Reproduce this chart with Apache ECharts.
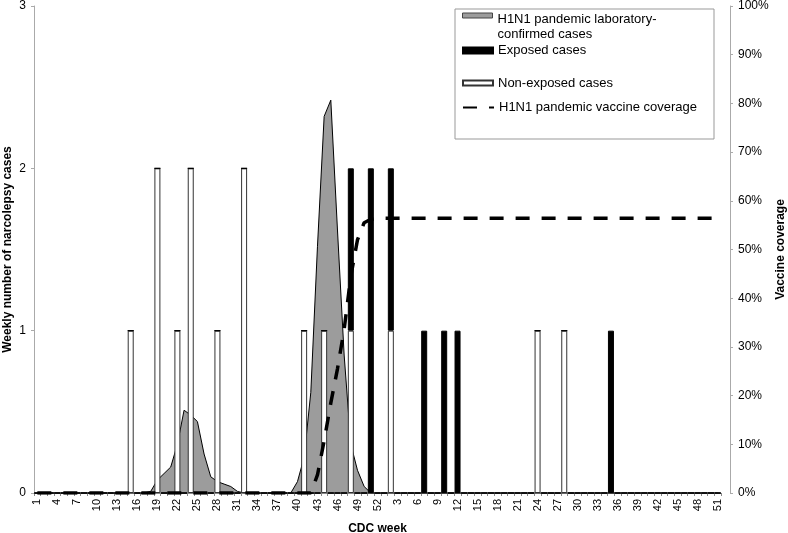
<!DOCTYPE html>
<html>
<head>
<meta charset="utf-8">
<script src="https://cdn.jsdelivr.net/npm/echarts@6/dist/echarts.min.js"></script>
<style>
  html, body { margin: 0; padding: 0; background: #fff; }
  #chart { width: 788px; height: 533px; }
</style>
</head>
<body>
<div id="chart"></div>
<script>
  // CDC weeks: 2009 week 1..52, then 2010 week 1..51
  var weeks = [
    '1','2','3','4','5','6','7','8','9','10','11','12','13',
    '14','15','16','17','18','19','20','21','22','23','24','25','26',
    '27','28','29','30','31','32','33','34','35','36','37','38','39',
    '40','41','42','43','44','45','46','47','48','49','50','51','52',
    '1','2','3','4','5','6','7','8','9','10','11','12','13',
    '14','15','16','17','18','19','20','21','22','23','24','25','26',
    '27','28','29','30','31','32','33','34','35','36','37','38','39',
    '40','41','42','43','44','45','46','47','48','49','50','51'
  ];

  // H1N1 laboratory-confirmed cases (scaled to left axis)
  var labConfirmed = [
    0, 0, 0, 0, 0, 0, 0, 0, 0, 0, 0, 0, 0,
    0, 0, 0, 0, 0.01, 0.08, 0.12, 0.16, 0.30, 0.51, 0.48, 0.44, 0.24,
    0.10, 0.07, 0.055, 0.04, 0.01, 0, 0, 0, 0, 0, 0, 0, 0,
    0.07, 0.22, 0.62, 1.52, 2.32, 2.42, 1.62, 0.85, 0.30, 0.14, 0.04, 0, 0,
    0, 0, 0, 0, 0, 0, 0, 0, 0, 0, 0, 0, 0,
    0, 0, 0, 0, 0, 0, 0, 0, 0, 0, 0, 0, 0,
    0, 0, 0, 0, 0, 0, 0, 0, 0, 0, 0, 0, 0,
    0, 0, 0, 0, 0, 0, 0, 0, 0, 0, 0, 0
  ];

  var nonExposed = [
    0, 0, 0, 0, 0, 0, 0, 0, 0, 0, 0, 0, 0,
    0, 1, 0, 0, 0, 2, 0, 0, 1, 0, 2, 0, 0,
    0, 1, 0, 0, 0, 2, 0, 0, 0, 0, 0, 0, 0,
    0, 1, 0, 0, 1, 0, 0, 0, 1, 0, 0, 0, 0,
    0, 1, 0, 0, 0, 0, 0, 0, 0, 0, 0, 0, 0,
    0, 0, 0, 0, 0, 0, 0, 0, 0, 0, 1, 0, 0,
    0, 1, 0, 0, 0, 0, 0, 0, 0, 0, 0, 0, 0,
    0, 0, 0, 0, 0, 0, 0, 0, 0, 0, 0, 0
  ];

  var exposed = [
    0, 0, 0, 0, 0, 0, 0, 0, 0, 0, 0, 0, 0,
    0, 0, 0, 0, 0, 0, 0, 0, 0, 0, 0, 0, 0,
    0, 0, 0, 0, 0, 0, 0, 0, 0, 0, 0, 0, 0,
    0, 0, 0, 0, 0, 0, 0, 0, 1, 0, 0, 2, 0,
    0, 1, 0, 0, 0, 0, 1, 0, 0, 1, 0, 1, 0,
    0, 0, 0, 0, 0, 0, 0, 0, 0, 0, 0, 0, 0,
    0, 0, 0, 0, 0, 0, 0, 0, 1, 0, 0, 0, 0,
    0, 0, 0, 0, 0, 0, 0, 0, 0, 0, 0, 0
  ];

  // vaccine coverage, %
  var vaccineCoverage = [
    0, 0, 0, 0, 0, 0, 0, 0, 0, 0, 0, 0, 0,
    0, 0, 0, 0, 0, 0, 0, 0, 0, 0, 0, 0, 0,
    0, 0, 0, 0, 0, 0, 0, 0, 0, 0, 0, 0, 0,
    0, 0, 0, 3.7, 10.7, 18.5, 25.5, 33.6, 44.5, 52, 55.5, 56.2, 56.4,
    56.4, 56.4, 56.4, 56.4, 56.4, 56.4, 56.4, 56.4, 56.4, 56.4, 56.4, 56.4, 56.4,
    56.4, 56.4, 56.4, 56.4, 56.4, 56.4, 56.4, 56.4, 56.4, 56.4, 56.4, 56.4, 56.4,
    56.4, 56.4, 56.4, 56.4, 56.4, 56.4, 56.4, 56.4, 56.4, 56.4, 56.4, 56.4, 56.4,
    56.4, 56.4, 56.4, 56.4, 56.4, 56.4, 56.4, 56.4, 56.4, 56.4, 56.4, 56.4
  ];

  var font = "'Liberation Sans', Arial, sans-serif";
  var chart = echarts.init(document.getElementById('chart'));

  var legendText = { fontFamily: font, fontSize: 13, color: '#000', lineHeight: 15 };
  var nameStyle = { fontFamily: font, fontSize: 12, fontWeight: 'bold', color: '#000' };

  var option = {
    animation: false,
    textStyle: { fontFamily: font },
    grid: { left: 34, right: 67, top: 6, bottom: 40, outerBoundsMode: 'none', containLabel: false },
    graphic: [{
      type: 'rect',
      z: 1,
      shape: { x: 455, y: 9, width: 259, height: 130 },
      style: { fill: '#fff', stroke: '#999', lineWidth: 1 }
    }],
    legend: [
      {
        left: 462, top: -11, padding: 0, itemWidth: 30, itemHeight: 5,
        textStyle: {
          fontFamily: font, fontSize: 13, color: '#000',
          rich: {
            g: { fontSize: 13, lineHeight: 23, height: 23 },
            t: { fontFamily: font, fontSize: 13, color: '#000', lineHeight: 15 }
          }
        },
        formatter: function () {
          return '{g| }\n{t|H1N1 pandemic laboratory-}\n{t|confirmed cases}';
        },
        data: [{ name: 'H1N1 pandemic laboratory-confirmed cases', icon: 'rect',
                 itemStyle: { color: '#9c9c9c', borderColor: '#444', borderWidth: 1 } }]
      },
      {
        left: 462, top: 43, padding: 0, itemWidth: 30, itemHeight: 6,
        textStyle: legendText,
        data: [{ name: 'Exposed cases', icon: 'rect' }]
      },
      {
        left: 462, top: 75.5, padding: 0, itemWidth: 30, itemHeight: 5,
        textStyle: legendText,
        data: [{ name: 'Non-exposed cases', icon: 'rect' }]
      },
      {
        left: 462, top: 100, padding: 0, itemWidth: 31, itemHeight: 5,
        textStyle: legendText,
        data: [{ name: 'H1N1 pandemic vaccine coverage',
                 itemStyle: { color: 'rgba(0,0,0,0)', borderWidth: 0 } }]
      }
    ],
    xAxis: {
      type: 'category',
      data: weeks,
      boundaryGap: true,
      name: 'CDC week',
      nameLocation: 'middle',
      nameGap: 30,
      nameMoveOverlap: false,
      nameTextStyle: nameStyle,
      axisLine: { lineStyle: { color: '#888', width: 1 } },
      axisTick: { show: true, interval: 0, length: 3, lineStyle: { color: '#888' } },
      axisLabel: { interval: 2, rotate: 90, fontSize: 11, color: '#000', margin: 6 },
      splitLine: { show: false }
    },
    yAxis: [
      {
        type: 'value',
        min: 0, max: 3, interval: 1,
        name: 'Weekly number of narcolepsy cases',
        nameLocation: 'middle',
        nameGap: 20,
        nameMoveOverlap: false,
        nameTextStyle: nameStyle,
        axisLine: { show: true, lineStyle: { color: '#aaa' } },
        axisTick: { show: true, length: 3, lineStyle: { color: '#aaa' } },
        axisLabel: { fontSize: 12, color: '#000', margin: 8 },
        splitLine: { show: false }
      },
      {
        type: 'value',
        min: 0, max: 100, interval: 10,
        position: 'right',
        offset: 9,
        name: 'Vaccine coverage',
        nameLocation: 'middle',
        nameGap: 45,
        nameMoveOverlap: false,
        nameTextStyle: nameStyle,
        axisLine: { show: true, lineStyle: { color: '#aaa' } },
        axisTick: { show: true, length: 3, lineStyle: { color: '#aaa' } },
        axisLabel: { fontSize: 12, color: '#000', margin: 8, formatter: '{value}%' },
        splitLine: { show: false }
      }
    ],
    series: [
      {
        name: 'H1N1 pandemic laboratory-confirmed cases',
        type: 'line',
        data: labConfirmed,
        symbol: 'none',
        itemStyle: { color: '#9c9c9c' },
        lineStyle: { color: '#000', width: 1 },
        areaStyle: { color: '#9c9c9c', opacity: 1 },
        z: 2
      },
      {
        name: 'Non-exposed cases',
        type: 'bar',
        stack: 'cases',
        data: nonExposed,
        barWidth: 6,
        itemStyle: { color: '#fff', borderColor: '#333', borderWidth: 1 },
        z: 3
      },
      {
        name: 'Exposed cases',
        type: 'bar',
        stack: 'cases',
        data: exposed,
        barWidth: 6,
        itemStyle: { color: '#000', borderColor: '#000', borderWidth: 1 },
        z: 3
      },
      {
        name: 'H1N1 pandemic vaccine coverage',
        type: 'line',
        yAxisIndex: 1,
        data: vaccineCoverage,
        symbol: 'none',
        itemStyle: { color: '#000' },
        lineStyle: { color: '#000', width: 3.5, type: [14, 12] },
        z: 4
      }
    ]
  };

  chart.setOption(option);
</script>
</body>
</html>
